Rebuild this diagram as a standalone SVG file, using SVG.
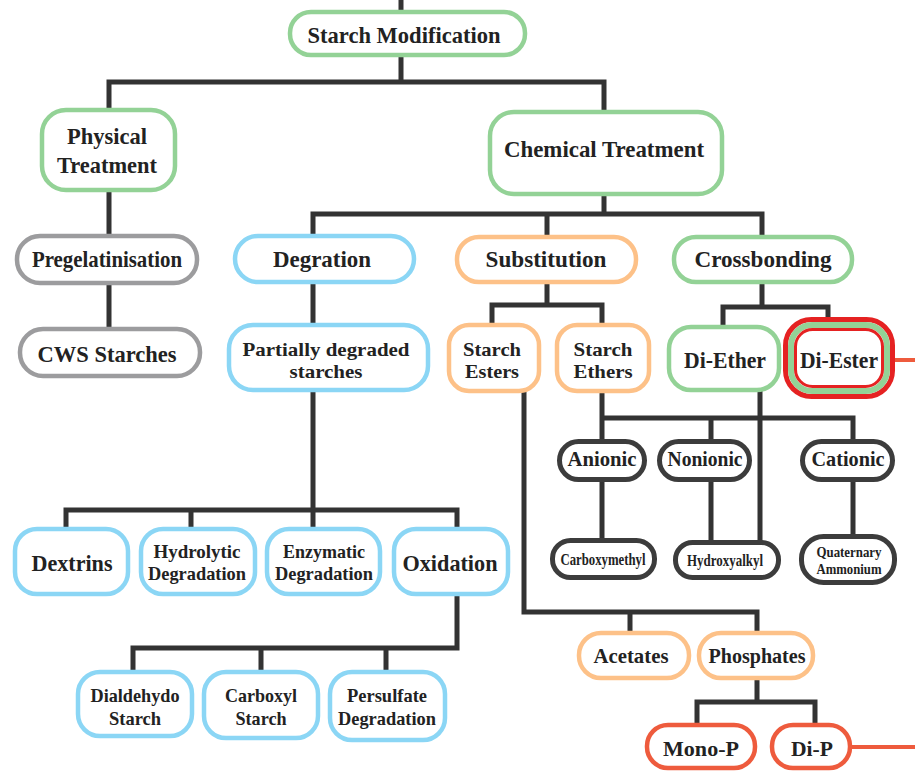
<svg xmlns="http://www.w3.org/2000/svg" width="915" height="772" viewBox="0 0 915 772">
  <style>
    .box { fill: #ffffff; stroke-width: 4.5; }
    .green { stroke: #93d296; }
    .blue { stroke: #8bd6f5; }
    .orange { stroke: #fdc188; }
    .gray { stroke: #9c9c9e; }
    .dark { stroke: #3c3c3c; stroke-width: 5; }
    .redo { stroke: #ee5b3d; }
    .wire { fill: none; stroke: #333333; stroke-width: 5; stroke-linecap: square; }
    .out { fill: none; stroke: #ee5b3d; stroke-width: 4; }
    .lbl { font-weight: bold; fill: #222222; text-anchor: middle; }
    .t1 { font-size: 24px; }
    .t2 { font-size: 21px; }
    .tw { font-size: 19px; }
    .t3 { font-size: 17px; }
    .tq { font-size: 15px; }
  </style>

  <!-- tree connectors -->
  <g id="connectors">
    <path class="wire" d="M401 0 V10"/>
    <path class="wire" d="M401 57 V82 M109 82 H604 M109 82 V108 M604 82 V110"/>
    <path class="wire" d="M109 192 V234 M109 285 V327"/>
    <path class="wire" d="M604 196 V214 M313 214 H762 M313 214 V234 M547 214 V235 M762 214 V235"/>
    <path class="wire" d="M313 284 V323 M313 392 V510 M66 510 H457 M66 510 V527 M191 510 V527 M313 510 V527 M457 510 V527"/>
    <path class="wire" d="M457 596 V648 M133 648 H457 M133 648 V670 M261 648 V670 M386 648 V670"/>
    <path class="wire" d="M547 284 V305 M492 305 H602 M492 305 V323 M602 305 V323"/>
    <path class="wire" d="M762 284 V307 M723 307 H828 M723 307 V325 M828 307 V317"/>
    <path class="wire" d="M602 393 V439 M602 418 H853 M711 418 V439 M853 418 V439"/>
    <path class="wire" d="M602 482 V538 M711 482 V540 M853 482 V534"/>
    <path class="wire" d="M760 392 V540"/>
    <path class="wire" d="M524 393 V612 M524 612 H757 M630 612 V631 M757 612 V631"/>
    <path class="wire" d="M757 680 V702 M697 702 H815 M697 702 V723 M815 702 V723"/>
    <path class="out" d="M895 360 H915 M852 747 H915"/>
  </g>

  <g font-family="'Liberation Serif', 'Times New Roman', serif">
  <g id="starch-modification">
    <rect class="box green" x="290" y="12" width="235" height="43" rx="21"/>
    <text class="lbl t1" x="404" y="43" textLength="193" lengthAdjust="spacingAndGlyphs">Starch Modification</text>
  </g>

  <g id="physical-treatment">
    <rect class="box green" x="42" y="110" width="133" height="80" rx="24"/>
    <text class="lbl t1" x="107" y="144" textLength="80" lengthAdjust="spacingAndGlyphs">Physical</text>
    <text class="lbl t1" x="107" y="173" textLength="100" lengthAdjust="spacingAndGlyphs">Treatment</text>
  </g>

  <g id="chemical-treatment">
    <rect class="box green" x="490" y="112" width="232" height="82" rx="24"/>
    <text class="lbl t1" x="604" y="157" textLength="200" lengthAdjust="spacingAndGlyphs">Chemical Treatment</text>
  </g>

  <g id="pregelatinisation">
    <rect class="box gray" x="17" y="236" width="180" height="47" rx="23"/>
    <text class="lbl t1" x="107" y="267" textLength="150" lengthAdjust="spacingAndGlyphs">Pregelatinisation</text>
  </g>

  <g id="cws-starches">
    <rect class="box gray" x="20" y="329" width="180" height="47" rx="23"/>
    <text class="lbl t1" x="107" y="362" textLength="139" lengthAdjust="spacingAndGlyphs">CWS Starches</text>
  </g>

  <g id="degration">
    <rect class="box blue" x="235" y="236" width="179" height="46" rx="23"/>
    <text class="lbl t1" x="322" y="267" textLength="98" lengthAdjust="spacingAndGlyphs">Degration</text>
  </g>

  <g id="substitution">
    <rect class="box orange" x="457" y="237" width="179" height="45" rx="22"/>
    <text class="lbl t1" x="546" y="267" textLength="121" lengthAdjust="spacingAndGlyphs">Substitution</text>
  </g>

  <g id="crossbonding">
    <rect class="box green" x="674" y="237" width="178" height="45" rx="22"/>
    <text class="lbl t1" x="763" y="267" textLength="137" lengthAdjust="spacingAndGlyphs">Crossbonding</text>
  </g>

  <g id="partially-degraded">
    <rect class="box blue" x="229" y="325" width="199" height="65" rx="24"/>
    <text class="lbl tw" x="326" y="356" textLength="167" lengthAdjust="spacingAndGlyphs">Partially degraded</text>
    <text class="lbl tw" x="326" y="378" textLength="73" lengthAdjust="spacingAndGlyphs">starches</text>
  </g>

  <g id="starch-esters">
    <rect class="box orange" x="449" y="325" width="90" height="66" rx="20"/>
    <text class="lbl tw" x="492" y="356" textLength="58" lengthAdjust="spacingAndGlyphs">Starch</text>
    <text class="lbl tw" x="492" y="378" textLength="54" lengthAdjust="spacingAndGlyphs">Esters</text>
  </g>

  <g id="starch-ethers">
    <rect class="box orange" x="557" y="325" width="92" height="66" rx="20"/>
    <text class="lbl tw" x="603" y="356" textLength="59" lengthAdjust="spacingAndGlyphs">Starch</text>
    <text class="lbl tw" x="603" y="378" textLength="59" lengthAdjust="spacingAndGlyphs">Ethers</text>
  </g>

  <g id="di-ether">
    <rect class="box green" x="669" y="327" width="110" height="63" rx="22"/>
    <text class="lbl t1" x="725" y="368" textLength="82" lengthAdjust="spacingAndGlyphs">Di-Ether</text>
  </g>

  <g id="di-ester">
    <rect fill="#ffffff" stroke="#e52222" stroke-width="5" x="785.5" y="319.5" width="107" height="77" rx="26"/>
    <rect fill="none" stroke="#93d296" stroke-width="6" x="791" y="325" width="96" height="66" rx="21"/>
    <rect fill="none" stroke="#e52222" stroke-width="3" x="795.5" y="329.5" width="87" height="57" rx="17"/>
    <text class="lbl t1" x="839" y="368" textLength="78" lengthAdjust="spacingAndGlyphs">Di-Ester</text>
  </g>

  <g id="anionic">
    <rect class="box dark" x="559.5" y="441.5" width="85" height="38" rx="19"/>
    <text class="lbl t2" x="602" y="466" textLength="69" lengthAdjust="spacingAndGlyphs">Anionic</text>
  </g>

  <g id="nonionic">
    <rect class="box dark" x="659.5" y="441.5" width="90" height="38" rx="19"/>
    <text class="lbl t2" x="705" y="466" textLength="75" lengthAdjust="spacingAndGlyphs">Nonionic</text>
  </g>

  <g id="cationic">
    <rect class="box dark" x="802.5" y="441.5" width="90" height="38" rx="19"/>
    <text class="lbl t2" x="848" y="466" textLength="73" lengthAdjust="spacingAndGlyphs">Cationic</text>
  </g>

  <g id="carboxymethyl">
    <rect class="box dark" x="552.5" y="540.5" width="102" height="37" rx="18"/>
    <text class="lbl t3" x="603" y="565" textLength="85" lengthAdjust="spacingAndGlyphs">Carboxymethyl</text>
  </g>

  <g id="hydroxyalkyl">
    <rect class="box dark" x="675.5" y="542.5" width="103" height="35" rx="17"/>
    <text class="lbl t3" x="725" y="566" textLength="76" lengthAdjust="spacingAndGlyphs">Hydroxyalkyl</text>
  </g>

  <g id="quaternary-ammonium">
    <rect class="box dark" x="801.5" y="536.5" width="93" height="46" rx="22"/>
    <text class="lbl tq" x="849" y="557" textLength="65" lengthAdjust="spacingAndGlyphs">Quaternary</text>
    <text class="lbl tq" x="849" y="574" textLength="65" lengthAdjust="spacingAndGlyphs">Ammonium</text>
  </g>

  <g id="dextrins">
    <rect class="box blue" x="15" y="529" width="113" height="65" rx="22"/>
    <text class="lbl t1" x="72" y="571" textLength="81" lengthAdjust="spacingAndGlyphs">Dextrins</text>
  </g>

  <g id="hydrolytic-degradation">
    <rect class="box blue" x="141" y="529" width="114" height="65" rx="22"/>
    <text class="lbl tw" x="197" y="558" textLength="87" lengthAdjust="spacingAndGlyphs">Hydrolytic</text>
    <text class="lbl tw" x="197" y="580" textLength="98" lengthAdjust="spacingAndGlyphs">Degradation</text>
  </g>

  <g id="enzymatic-degradation">
    <rect class="box blue" x="267" y="529" width="113" height="65" rx="22"/>
    <text class="lbl tw" x="324" y="558" textLength="82" lengthAdjust="spacingAndGlyphs">Enzymatic</text>
    <text class="lbl tw" x="324" y="580" textLength="98" lengthAdjust="spacingAndGlyphs">Degradation</text>
  </g>

  <g id="oxidation">
    <rect class="box blue" x="394" y="529" width="114" height="65" rx="22"/>
    <text class="lbl t1" x="450" y="571" textLength="95" lengthAdjust="spacingAndGlyphs">Oxidation</text>
  </g>

  <g id="dialdehydo-starch">
    <rect class="box blue" x="78" y="672" width="114" height="64" rx="22"/>
    <text class="lbl tw" x="135" y="702" textLength="89" lengthAdjust="spacingAndGlyphs">Dialdehydo</text>
    <text class="lbl tw" x="135" y="725" textLength="52" lengthAdjust="spacingAndGlyphs">Starch</text>
  </g>

  <g id="carboxyl-starch">
    <rect class="box blue" x="204" y="672" width="114" height="66" rx="22"/>
    <text class="lbl tw" x="261" y="702" textLength="72" lengthAdjust="spacingAndGlyphs">Carboxyl</text>
    <text class="lbl tw" x="261" y="725" textLength="51" lengthAdjust="spacingAndGlyphs">Starch</text>
  </g>

  <g id="persulfate-degradation">
    <rect class="box blue" x="330" y="672" width="115" height="68" rx="22"/>
    <text class="lbl tw" x="387" y="702" textLength="80" lengthAdjust="spacingAndGlyphs">Persulfate</text>
    <text class="lbl tw" x="387" y="725" textLength="98" lengthAdjust="spacingAndGlyphs">Degradation</text>
  </g>

  <g id="acetates">
    <rect class="box orange" x="579" y="633" width="110" height="45" rx="22"/>
    <text class="lbl t2" x="631" y="663" textLength="75" lengthAdjust="spacingAndGlyphs">Acetates</text>
  </g>

  <g id="phosphates">
    <rect class="box orange" x="699" y="633" width="114" height="45" rx="22"/>
    <text class="lbl t2" x="757" y="663" textLength="97" lengthAdjust="spacingAndGlyphs">Phosphates</text>
  </g>

  <g id="mono-p">
    <rect class="box redo" x="647" y="725" width="108" height="43" rx="21"/>
    <text class="lbl t2" x="701" y="756" textLength="76" lengthAdjust="spacingAndGlyphs">Mono-P</text>
  </g>

  <g id="di-p">
    <rect class="box redo" x="772" y="725" width="78" height="43" rx="21"/>
    <text class="lbl t2" x="812" y="756" textLength="42" lengthAdjust="spacingAndGlyphs">Di-P</text>
  </g>
  </g>
</svg>
